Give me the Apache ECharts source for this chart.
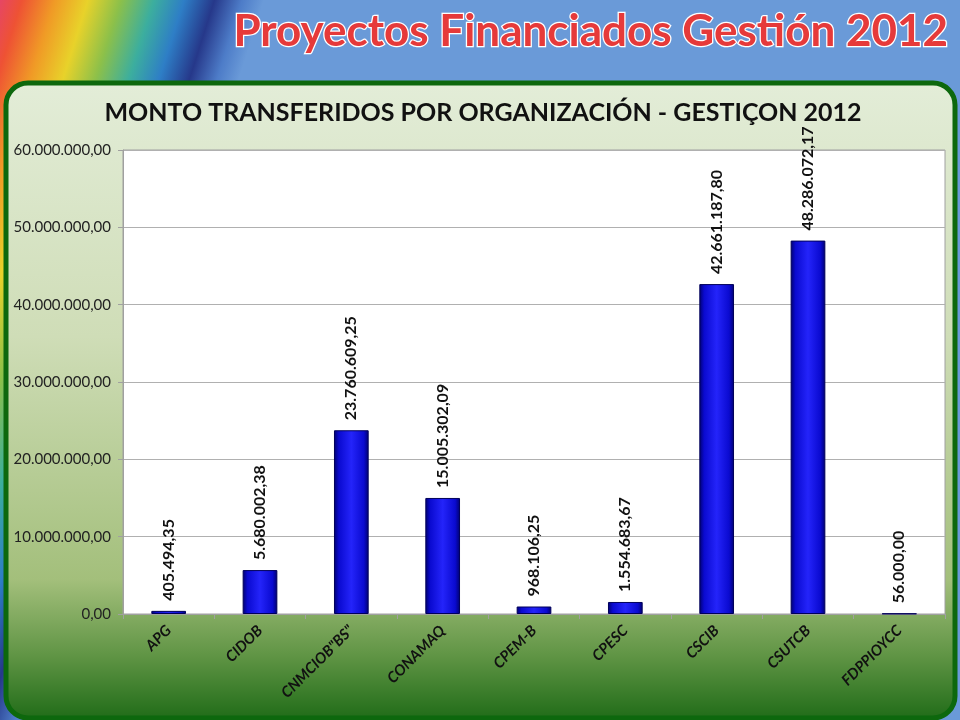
<!DOCTYPE html>
<html>
<head>
<meta charset="utf-8">
<script src="https://cdn.jsdelivr.net/npm/echarts@6/dist/echarts.min.js"></script>
<style>html,body{margin:0;padding:0;background:#6a9ad8}#c{width:960px;height:720px}</style>
</head>
<body>
<div id="c"></div>
<script>
var categories = ['APG', 'CIDOB', 'CNMCIOB"BS"', 'CONAMAQ', 'CPEM-B', 'CPESC', 'CSCIB', 'CSUTCB', 'FDPPIOYCC'];
var montos = [405494.35, 5680002.38, 23760609.25, 15005302.09, 968106.25, 1554683.67, 42661187.80, 48286072.17, 56000.00];
var yTicks = { min: 0, max: 60000000, interval: 10000000 };

function fmt(v) {
  var s = Number(v).toFixed(2);
  var parts = s.split('.');
  var ip = parts[0].replace(/\B(?=(\d{3})+(?!\d))/g, '.');
  return ip + ',' + parts[1];
}

var chart = echarts.init(document.getElementById('c'));
var option = {
  animation: false,
  backgroundColor: '#6a9ad8',
  graphic: [
    {
      type: 'rect', z: -10, silent: true,
      shape: { x: 0, y: 0, width: 960, height: 720 },
      style: {
        fill: new echarts.graphic.LinearGradient(-10, -3, 240, 76, [
          { offset: 0.00, color: '#e2407c' },
          { offset: 0.12, color: '#ee5234' },
          { offset: 0.24, color: '#f09a26' },
          { offset: 0.36, color: '#e8d22a' },
          { offset: 0.48, color: '#8cc04a' },
          { offset: 0.60, color: '#3cae9e' },
          { offset: 0.71, color: '#2e7ec6' },
          { offset: 0.82, color: '#26388a' },
          { offset: 0.92, color: '#4d7cc8' },
          { offset: 1.00, color: '#6a9ad8' }
        ], true)
      }
    },
    {
      type: 'text', z: 5, silent: true,
      x: 948, y: 32,
      style: {
        text: 'Proyectos Financiados Gestión 2012',
        font: 'bold 44px Lato',
        textAlign: 'right', textVerticalAlign: 'middle',
        fill: '#e63a3a',
        stroke: '#ffffff', lineWidth: 2.5,
        shadowColor: 'rgba(0,0,0,0.35)', shadowBlur: 3, shadowOffsetX: 1, shadowOffsetY: 2
      }
    },
    {
      type: 'rect', z: -5, silent: true,
      shape: { x: 6, y: 83, width: 949, height: 635, r: 22 },
      style: {
        fill: new echarts.graphic.LinearGradient(0, 0, 0, 1, [
          { offset: 0.00, color: '#e3edd8' },
          { offset: 0.40, color: '#cfddb7' },
          { offset: 0.78, color: '#a3bf7b' },
          { offset: 0.90, color: '#5f9444' },
          { offset: 1.00, color: '#1f6b17' }
        ]),
        stroke: '#0d680d', lineWidth: 5
      }
    },
    {
      type: 'text', z: 5, silent: true,
      x: 483, y: 113,
      style: {
        text: 'MONTO TRANSFERIDOS POR ORGANIZACIÓN - GESTIÇON 2012',
        font: 'bold 25px Lato', fill: '#111111',
        textAlign: 'center', textVerticalAlign: 'middle'
      }
    }
  ],
  grid: {
    left: 123, right: 15, top: 150, bottom: 106,
    show: true, backgroundColor: '#ffffff', borderColor: '#a0a0a0', borderWidth: 1
  },
  xAxis: {
    type: 'category',
    data: categories,
    axisLine: { show: true, lineStyle: { color: '#a0a0a0' } },
    axisTick: { show: true, length: 5, alignWithLabel: false, lineStyle: { color: '#a0a0a0' } },
    axisLabel: {
      rotate: 45, interval: 0, margin: 14,
      fontFamily: 'Lato', fontWeight: 'bold', fontStyle: 'italic', fontSize: 15, color: '#111111'
    }
  },
  yAxis: {
    type: 'value',
    min: yTicks.min, max: yTicks.max, interval: yTicks.interval,
    axisLine: { show: true, lineStyle: { color: '#a0a0a0' } },
    axisTick: { show: true, length: 5, lineStyle: { color: '#a0a0a0' } },
    splitLine: { show: true, lineStyle: { color: '#b0b0b0' } },
    axisLabel: {
      formatter: function (v) { return fmt(v); },
      fontFamily: 'Lato', fontSize: 15, color: '#222222', margin: 12
    }
  },
  series: [{
    type: 'bar',
    data: montos,
    barWidth: '38%',
    itemStyle: {
      color: new echarts.graphic.LinearGradient(0, 0, 1, 0, [
        { offset: 0.00, color: '#00006e' },
        { offset: 0.14, color: '#0a0ad0' },
        { offset: 0.50, color: '#2424fa' },
        { offset: 0.86, color: '#0a0ad0' },
        { offset: 1.00, color: '#00006e' }
      ]),
      borderColor: '#00005a', borderWidth: 1
    },
    label: {
      show: true, position: 'top', rotate: 90, align: 'left', verticalAlign: 'middle',
      distance: 10,
      formatter: function (p) { return fmt(p.value); },
      fontFamily: 'Lato', fontWeight: 'bold', fontSize: 16, color: '#111111'
    }
  }]
};
chart.setOption(option);
</script>
</body>
</html>
